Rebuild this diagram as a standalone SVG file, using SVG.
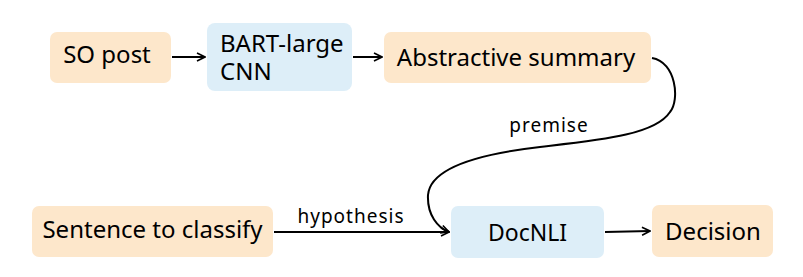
<svg xmlns="http://www.w3.org/2000/svg" width="803" height="277" viewBox="0 0 803 277">
  <style>
    .orange { fill: #FDE7CB; }
    .blue { fill: #DDEEF8; }
    .label { font-family: "Noto Sans", "Open Sans", sans-serif; font-size: 24px; fill: #000; }
    .edge-label { font-family: "Noto Sans", "Open Sans", sans-serif; font-size: 19px; letter-spacing: 1px; fill: #000; }
    .edge { fill: none; stroke: #000; stroke-width: 2; }
  </style>
  <defs>
    <marker id="arrow" viewBox="0 0 10 10" refX="9" refY="5" markerWidth="10" markerHeight="10" markerUnits="userSpaceOnUse" orient="auto">
      <path d="M1,1 L9,5 L1,9" fill="none" stroke="#000" stroke-width="1.6"/>
    </marker>
  </defs>
  <rect width="803" height="277" fill="#fff"/>

  <!-- nodes -->
  <g id="so-post">
    <rect class="orange" x="50" y="32" width="121" height="51" rx="7"/>
    <text class="label" x="107" y="63" text-anchor="middle">SO post</text>
  </g>
  <g id="bart">
    <rect class="blue" x="207" y="23" width="145" height="68" rx="8"/>
    <text class="label" x="220" y="52">BART-large<tspan x="220" dy="28">CNN</tspan></text>
  </g>
  <g id="summary">
    <rect class="orange" x="384" y="32" width="267" height="51" rx="7"/>
    <text class="label" x="516" y="66" text-anchor="middle">Abstractive summary</text>
  </g>
  <g id="sentence">
    <rect class="orange" x="32" y="206" width="241" height="51" rx="7"/>
    <text class="label" x="152.5" y="238" text-anchor="middle">Sentence to classify</text>
  </g>
  <g id="docnli">
    <rect class="blue" x="451" y="206" width="153" height="52" rx="7"/>
    <text class="label" x="527.5" y="241" text-anchor="middle" style="font-size:23px">DocNLI</text>
  </g>
  <g id="decision">
    <rect class="orange" x="652" y="205" width="121" height="52" rx="7"/>
    <text class="label" x="713" y="240" text-anchor="middle">Decision</text>
  </g>

  <!-- connectors -->
  <g id="connectors">
    <line class="edge" x1="172" y1="57" x2="205" y2="57" marker-end="url(#arrow)"/>
    <line class="edge" x1="353" y1="57" x2="382" y2="57" marker-end="url(#arrow)"/>
    <path class="edge" d="M652,58 C676,62 680,100 670,112 C655,135 600,140 540,147 C470,155 430,170 428,195 C427,215 438,228 449,232" marker-end="url(#arrow)"/>
    <line class="edge" x1="274" y1="232" x2="449" y2="232" marker-end="url(#arrow)"/>
    <line class="edge" x1="605" y1="232" x2="650" y2="231" marker-end="url(#arrow)"/>
    <text class="edge-label" x="549" y="132" text-anchor="middle">premise</text>
    <text class="edge-label" x="351" y="223" text-anchor="middle">hypothesis</text>
  </g>
</svg>
